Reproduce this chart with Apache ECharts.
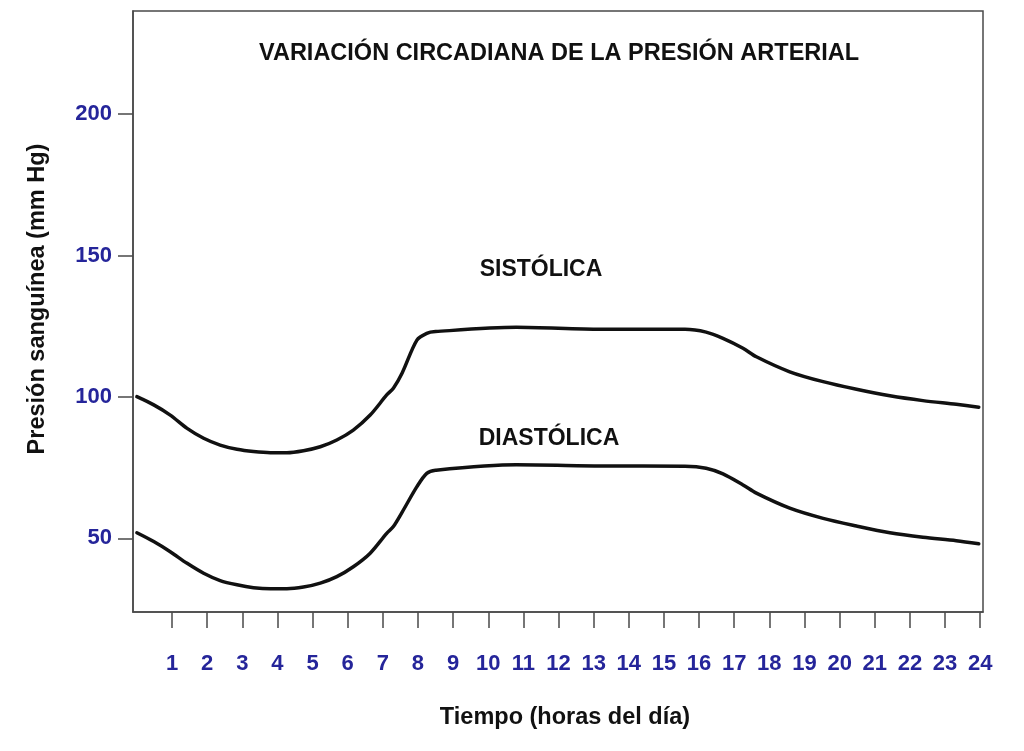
<!DOCTYPE html>
<html>
<head>
<meta charset="utf-8">
<script src="https://cdn.jsdelivr.net/npm/echarts@6/dist/echarts.min.js"></script>
<style>
html,body{margin:0;padding:0;background:#fff;}
#chart{width:1024px;height:751px;}
</style>
</head>
<body>
<div id="chart"></div>
<script>
// ---- data ----
const chartTitle = 'VARIACIÓN CIRCADIANA DE LA PRESIÓN ARTERIAL';
const xAxisName = 'Tiempo (horas del día)';
const yAxisName = 'Presión sanguínea (mm Hg)';
const seriesNames = ['SISTÓLICA', 'DIASTÓLICA'];
const hourTicks = [1,2,3,4,5,6,7,8,9,10,11,12,13,14,15,16,17,18,19,20,21,22,23,24];
const pressureTicks = [50, 100, 150, 200];
const hours = [0, 0.48, 0.95, 1.43, 1.9, 2.37, 2.85, 3.32, 3.8, 4.27, 4.74, 5.22, 5.69, 6.16, 6.64, 7.11, 7.3, 7.55, 7.97, 8.25, 8.5, 10.8, 13.2, 15.6, 16.2, 16.68, 17.25, 17.63, 18.58, 19.53, 20.48, 21.43, 22.37, 23.32, 23.96];
const systolic = [100.1, 97.2, 93.6, 88.9, 85.4, 83.0, 81.5, 80.7, 80.3, 80.3, 81.0, 82.4, 84.8, 88.3, 93.6, 100.7, 103.1, 108.5, 120.1, 122.5, 123.1, 124.6, 123.9, 123.9, 122.9, 120.7, 117.2, 114.2, 108.9, 105.4, 102.7, 100.4, 98.7, 97.4, 96.4];
const diastolic = [52.0, 48.9, 45.3, 41.2, 37.7, 35.1, 33.6, 32.6, 32.2, 32.2, 32.8, 34.2, 36.5, 40.0, 44.8, 51.8, 54.2, 59.3, 68.3, 73.0, 74.1, 76.0, 75.6, 75.5, 74.8, 72.8, 68.9, 66.0, 60.7, 57.1, 54.4, 52.0, 50.4, 49.2, 48.1];

const FONT = '"Liberation Sans", Arial, Helvetica, sans-serif';
const BLUE = '#25259a';
const AXIS = '#4a4a4a';

const chart = echarts.init(document.getElementById('chart'), null, {renderer: 'canvas'});

function pairs(xs, ys) { return xs.map((x, i) => [x, ys[i]]); }

const textStyleBold = (size) => ({fontFamily: FONT, fontSize: size, fontWeight: 'bold', fill: '#111', align: 'center', verticalAlign: 'middle'});

const option = {
  backgroundColor: '#fff',
  animation: false,
  title: {
    text: chartTitle,
    left: 254,
    top: 37,
    textStyle: {fontFamily: FONT, fontSize: 23.5, fontWeight: 'bold', color: '#111'}
  },
  grid: {
    left: 133, right: 41, top: 11, bottom: 139,
    show: true, borderColor: AXIS, borderWidth: 1.5, backgroundColor: 'transparent'
  },
  xAxis: {
    type: 'value',
    min: -0.11, max: 24.08,
    splitLine: {show: false},
    axisLine: {show: true, onZero: false, lineStyle: {color: AXIS, width: 1.5}},
    axisTick: {show: true, length: 16, customValues: hourTicks, lineStyle: {color: AXIS, width: 1.5}},
    axisLabel: {
      customValues: hourTicks, margin: 41,
      fontFamily: FONT, fontSize: 22, fontWeight: 'bold', color: BLUE
    }
  },
  yAxis: {
    type: 'value',
    min: 24, max: 236.4,
    splitLine: {show: false},
    axisLine: {show: true, onZero: false, lineStyle: {color: AXIS, width: 1.5}},
    axisTick: {show: true, length: 15, customValues: pressureTicks, lineStyle: {color: AXIS, width: 1.5}},
    axisLabel: {
      customValues: pressureTicks, margin: 21,
      fontFamily: FONT, fontSize: 22, fontWeight: 'bold', color: BLUE
    }
  },
  graphic: [
    {type: 'text', x: 541, y: 270, style: Object.assign({text: seriesNames[0]}, textStyleBold(23))},
    {type: 'text', x: 549, y: 439, style: Object.assign({text: seriesNames[1]}, textStyleBold(23))},
    {type: 'text', x: 565, y: 718, style: Object.assign({text: xAxisName}, textStyleBold(23.5))},
    {type: 'text', x: 38, y: 299, rotation: Math.PI / 2, style: Object.assign({text: yAxisName}, textStyleBold(23.5))}
  ],
  series: [
    {
      name: seriesNames[0], type: 'line', data: pairs(hours, systolic),
      smooth: 0.3, symbol: 'none',
      lineStyle: {color: '#111', width: 3.5, cap: 'round', join: 'round'}
    },
    {
      name: seriesNames[1], type: 'line', data: pairs(hours, diastolic),
      smooth: 0.3, symbol: 'none',
      lineStyle: {color: '#111', width: 3.5, cap: 'round', join: 'round'}
    }
  ]
};
chart.setOption(option);
</script>
</body>
</html>
